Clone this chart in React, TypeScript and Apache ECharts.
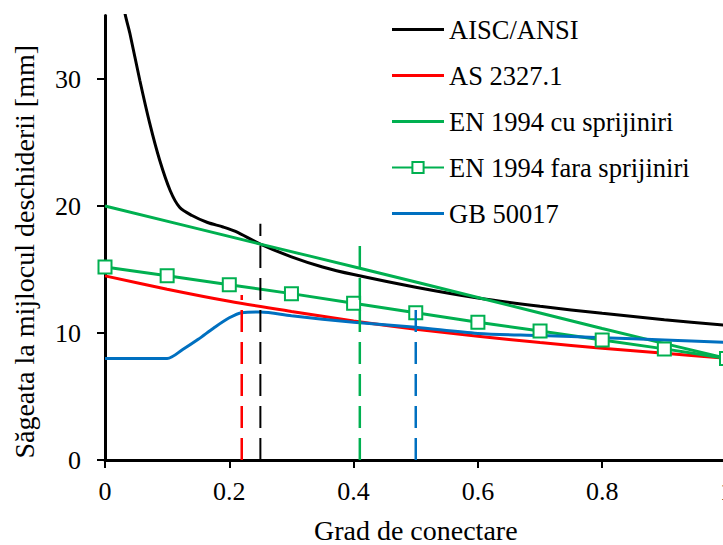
import React, { useEffect, useRef } from "react";
import * as echarts from "echarts";

// Deflection at mid-span vs. degree of shear connection
const xAisc = [0.025, 0.032, 0.04, 0.056, 0.072, 0.088, 0.105, 0.12, 0.14, 0.165, 0.19, 0.21, 0.25, 0.3, 0.35, 0.4, 0.5, 0.6, 0.7, 0.8, 0.9, 1.0];
const yAisc = [37.6, 35.2, 33.6, 29.9, 26.5, 23.6, 21.2, 19.9, 19.25, 18.7, 18.35, 18.0, 17.0, 16.0, 15.2, 14.6, 13.6, 12.75, 12.1, 11.55, 11.05, 10.6];

const xAs = [0, 0.1, 0.2, 0.3, 0.4, 0.5, 0.6, 0.7, 0.8, 0.9, 1.0];
const yAs = [14.5, 13.45, 12.5, 11.7, 10.95, 10.3, 9.75, 9.25, 8.8, 8.4, 8.0];

const xEnCu = [0, 0.25, 0.41, 0.6, 0.8, 1.0];
const yEnCu = [20.0, 17.0, 15.1, 12.8, 10.35, 8.0];

const xEnFara = [0, 0.1, 0.2, 0.3, 0.4, 0.5, 0.6, 0.7, 0.8, 0.9, 1.0];
const yEnFara = [15.2, 14.5, 13.8, 13.1, 12.35, 11.6, 10.85, 10.15, 9.45, 8.75, 8.0];

const xGb = [0, 0.1, 0.125, 0.15, 0.175, 0.2, 0.22, 0.25, 0.3, 0.4, 0.5, 0.6, 0.7, 0.8, 0.9, 1.0];
const yGb = [8.0, 8.0, 8.7, 9.5, 10.4, 11.2, 11.6, 11.65, 11.35, 10.85, 10.45, 9.97, 9.8, 9.63, 9.45, 9.27];

// Vertical reference lines (minimum degree of connection per code)
const limitX = [0.22, 0.25, 0.41, 0.5];
const limitTop = [13.0, 18.6, 17.1, 12.0];
const limitColor = ["#FF0000", "#000000", "#00B050", "#0070C0"];

const xTicks = [0, 0.2, 0.4, 0.6, 0.8, 1];
const yTicks = [0, 10, 20, 30];

const names = ["AISC/ANSI", "AS 2327.1", "EN 1994 cu sprijiniri", "EN 1994 fara sprijiniri", "GB 50017"];
const colors = ["#000000", "#FF0000", "#00B050", "#00B050", "#0070C0"];

const FONT = "Liberation Serif";
const LINE_ICON = "path://M0,0H52V3H0Z";

function pairs(xs: number[], ys: number[]) {
  return xs.map((x, i) => [x, ys[i]]);
}

export default function App() {
  const ref = useRef<HTMLDivElement>(null);

  useEffect(() => {
    if (!ref.current) return;
    const chart = echarts.init(ref.current, undefined, { renderer: "svg" });

    const mainSeries: any[] = [
      { name: names[0], data: pairs(xAisc, yAisc), smooth: 0.3 },
      { name: names[1], data: pairs(xAs, yAs), smooth: 0.3 },
      { name: names[2], data: pairs(xEnCu, yEnCu), smooth: 0.2 },
      {
        name: names[3],
        data: pairs(xEnFara, yEnFara),
        showSymbol: true,
        symbol: "rect",
        symbolSize: 13,
        itemStyle: { color: "#ffffff", borderColor: colors[3], borderWidth: 2 },
      },
      { name: names[4], data: pairs(xGb, yGb), smooth: 0.3 },
    ].map((s, i) => ({
      type: "line",
      showSymbol: false,
      symbol: "none",
      ...s,
      lineStyle: { color: colors[i], width: 3 },
      itemStyle: s.itemStyle || { color: colors[i] },
      z: 2,
    }));

    const limitSeries = limitX.map((x, i) => ({
      type: "line",
      name: "limit" + i,
      data: [
        [x, 0],
        [x, limitTop[i]],
      ],
      symbol: "none",
      lineStyle: { color: limitColor[i], width: i === 1 ? 2 : 2.5, type: [22, 10] },
      z: 3,
      silent: true,
    }));

    chart.setOption({
      animation: false,
      backgroundColor: "#ffffff",
      textStyle: { fontFamily: FONT },
      grid: {
        left: 105,
        top: 15.5,
        width: 621.5,
        height: 444.5,
        containLabel: false,
        outerBoundsMode: "none",
      },
      legend: {
        data: names.map((n, i) => (i === 3 ? { name: n } : { name: n, icon: LINE_ICON })),
        orient: "vertical",
        left: 391,
        top: 16,
        padding: 0,
        itemWidth: 52,
        itemHeight: 14,
        itemGap: 19,
        symbolKeepAspect: true,
        textStyle: { fontFamily: FONT, fontSize: 26.5, color: "#000" },
      },
      xAxis: {
        type: "value",
        min: 0,
        max: 1,
        interval: 0.2,
        name: "Grad de conectare",
        nameLocation: "middle",
        nameGap: 56,
        nameTextStyle: { fontFamily: FONT, fontSize: 28, color: "#000" },
        axisLine: { lineStyle: { color: "#000", width: 3 } },
        axisTick: { length: 8, lineStyle: { color: "#000", width: 2 }, customValues: xTicks },
        axisLabel: { customValues: xTicks, margin: 18, fontFamily: FONT, fontSize: 26, color: "#000" },
        splitLine: { show: false },
      },
      yAxis: {
        type: "value",
        min: 0,
        max: 35,
        interval: 10,
        name: "Săgeata la mijlocul deschiderii [mm]",
        nameLocation: "middle",
        nameGap: 67,
        nameTextStyle: { fontFamily: FONT, fontSize: 28, color: "#000", padding: [0, 28, 0, 0] },
        axisLine: { show: true, lineStyle: { color: "#000", width: 3 } },
        axisTick: { show: true, length: 8, lineStyle: { color: "#000", width: 2 }, customValues: yTicks },
        axisLabel: { customValues: yTicks, margin: 24, fontFamily: FONT, fontSize: 26, color: "#000" },
        splitLine: { show: false },
      },
      series: [...mainSeries, ...limitSeries],
    });

    return () => chart.dispose();
  }, []);

  return (
    <div
      ref={ref}
      style={{ position: "fixed", left: 0, top: 0, width: 723, height: 545, background: "#fff" }}
    />
  );
}
